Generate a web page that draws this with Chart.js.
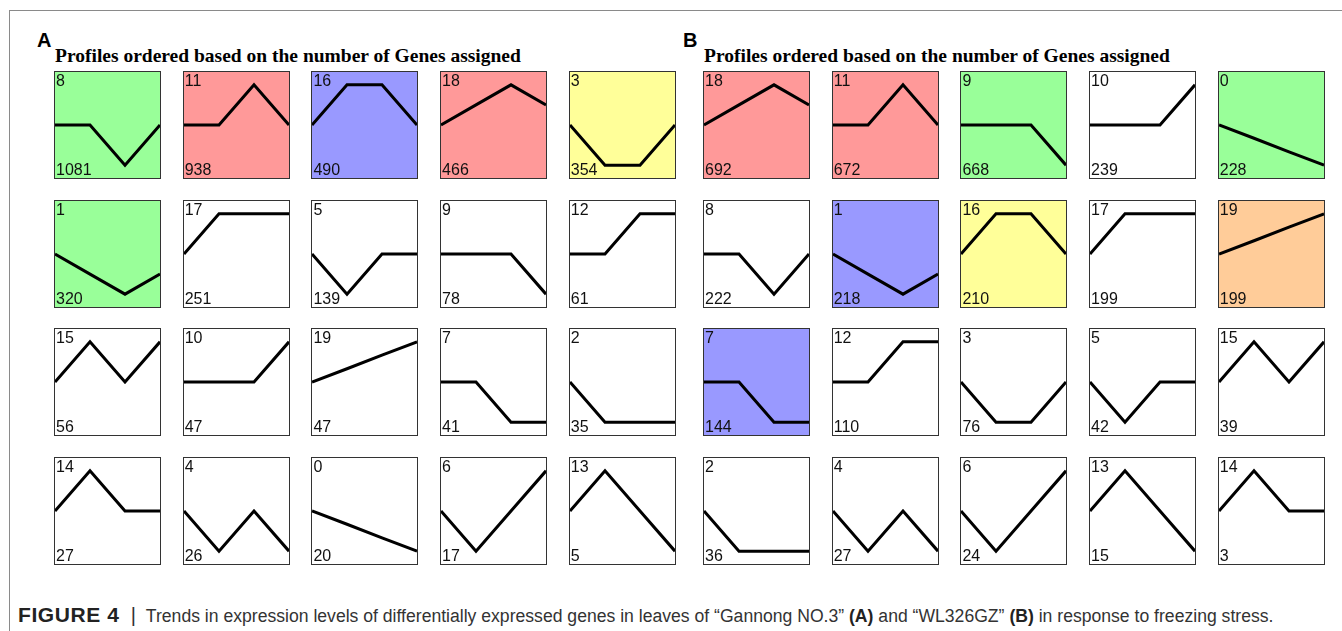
<!DOCTYPE html>
<html>
<head>
<meta charset="utf-8">
<script src="https://cdn.jsdelivr.net/npm/chart.js@4"></script>
<style>
  body { margin: 0; background: #fff; }
  #page { position: relative; width: 1342px; height: 631px; overflow: hidden; font-family: "Liberation Sans", Arial, sans-serif; }
  .frame { position: absolute; left: 9px; top: 10px; right: -5px; bottom: -5px; border-top: 1px solid #8a8a8a; border-left: 1px solid #8a8a8a; }
  .letter { position: absolute; font: bold 20px "Liberation Sans", Arial, sans-serif; color: #000; }
  .title { position: absolute; font: bold 19.5px "Liberation Serif", "Times New Roman", serif; color: #000; white-space: nowrap; }
  .panel { position: absolute; width: 105px; height: 106px; border: 1.5px solid #333; }
  .panel canvas { position: absolute; left: 0; top: 0; }
  .pid, .cnt { position: absolute; left: 1px; font: 16px "Liberation Sans", Arial, sans-serif; color: #111; line-height: 16px; }
  .pid { top: 1px; }
  .cnt { bottom: 0px; }
  .caption { position: absolute; left: 18px; top: 603px; font: 17.6px "Liberation Sans", Arial, sans-serif; color: #333; white-space: nowrap; }
  .caption b { color: #222; }
  .caption .fig { font-size: 21px; letter-spacing: 0.6px; }
  .caption .sep { display: inline-block; margin: 0 10px 0 11px; font-size: 20px; }
</style>
</head>
<body>
<div id="page">
  <div class="frame"></div>
  <div class="letter" style="left:37px;top:29px;">A</div>
  <div class="title" style="left:55px;top:45px;">Profiles ordered based on the number of Genes assigned</div>
  <div class="letter" style="left:683px;top:29px;">B</div>
  <div class="title" style="left:704px;top:45px;">Profiles ordered based on the number of Genes assigned</div>
  <div class="caption"><b class="fig">FIGURE 4</b><span class="sep">|</span>Trends in expression levels of differentially expressed genes in leaves of “Gannong NO.3” <b>(A)</b> and “WL326GZ” <b>(B)</b> in response to freezing stress.</div>
</div>
<script>
// time points of each profile
const timePoints = [0, 1, 2, 3];

// STEM model profiles (as drawn, scaled to max |value| = 1)
const profileShapes = {
    0: [0, -0.33, -0.67, -1],
    1: [0, -0.5, -1, -0.5],
    2: [0, -1, -1, -1],
    3: [0, -1, -1, 0],
    4: [0, -1, 0, -1],
    5: [0, -1, 0, 0],
    6: [0, -1, 0, 1],
    7: [0, 0, -1, -1],
    8: [0, 0, -1, 0],
    9: [0, 0, 0, -1],
    10: [0, 0, 0, 1],
    11: [0, 0, 1, 0],
    12: [0, 0, 1, 1],
    13: [0, 1, 0, -1],
    14: [0, 1, 0, 0],
    15: [0, 1, 0, 1],
    16: [0, 1, 1, 0],
    17: [0, 1, 1, 1],
    18: [0, 0.5, 1, 0.5],
    19: [0, 0.33, 0.67, 1]
};

// panel A: "Gannong NO.3"
const profilesA = [8, 11, 16, 18, 3, 1, 17, 5, 9, 12, 15, 10, 19, 7, 2, 14, 4, 0, 6, 13];
const countsA = [1081, 938, 490, 466, 354, 320, 251, 139, 78, 61, 56, 47, 47, 41, 35, 27, 26, 20, 17, 5];
const clustersA = ['g', 'r', 'b', 'r', 'y', 'g', '', '', '', '', '', '', '', '', '', '', '', '', '', ''];

// panel B: "WL326GZ"
const profilesB = [18, 11, 9, 10, 0, 8, 1, 16, 17, 19, 7, 12, 3, 5, 15, 2, 4, 6, 13, 14];
const countsB = [692, 672, 668, 239, 228, 222, 218, 210, 199, 199, 144, 110, 76, 42, 39, 36, 27, 24, 15, 3];
const clustersB = ['r', 'r', 'g', '', 'g', '', 'b', 'y', '', 'o', 'b', '', '', '', '', '', '', '', '', ''];

const fills = { g: '#99ff99', r: '#ff9999', b: '#9999ff', y: '#ffff99', o: '#ffcc99', '': '#ffffff' };

const page = document.getElementById('page');

function drawGroup(ids, counts, clusters, left, top) {
    ids.forEach((id, i) => {
        const col = i % 5, row = Math.floor(i / 5);
        const box = document.createElement('div');
        box.className = 'panel';
        box.style.left = (left + col * 128.7) + 'px';
        box.style.top = (top + row * 128.7) + 'px';
        box.style.background = fills[clusters[i]];
        const cv = document.createElement('canvas');
        cv.width = 105;
        cv.height = 106;
        box.appendChild(cv);
        const pid = document.createElement('div');
        pid.className = 'pid';
        pid.textContent = id;
        box.appendChild(pid);
        const cnt = document.createElement('div');
        cnt.className = 'cnt';
        cnt.textContent = counts[i];
        box.appendChild(cnt);
        page.appendChild(box);

        new Chart(cv, {
            type: 'line',
            data: {
                labels: timePoints,
                datasets: [{
                    data: profileShapes[id].map((v, k) => ({ x: timePoints[k], y: v })),
                    borderColor: '#000',
                    borderWidth: 3,
                    pointRadius: 0,
                    tension: 0,
                    fill: false
                }]
            },
            options: {
                responsive: false,
                animation: false,
                layout: { padding: 0 },
                plugins: { legend: { display: false }, tooltip: { enabled: false } },
                scales: {
                    x: { type: 'linear', min: 0, max: 3, display: false },
                    y: { min: -1.32, max: 1.32, display: false }
                }
            }
        });
    });
}

drawGroup(profilesA, countsA, clustersA, 54, 71);
drawGroup(profilesB, countsB, clustersB, 703, 71);
</script>
</body>
</html>
